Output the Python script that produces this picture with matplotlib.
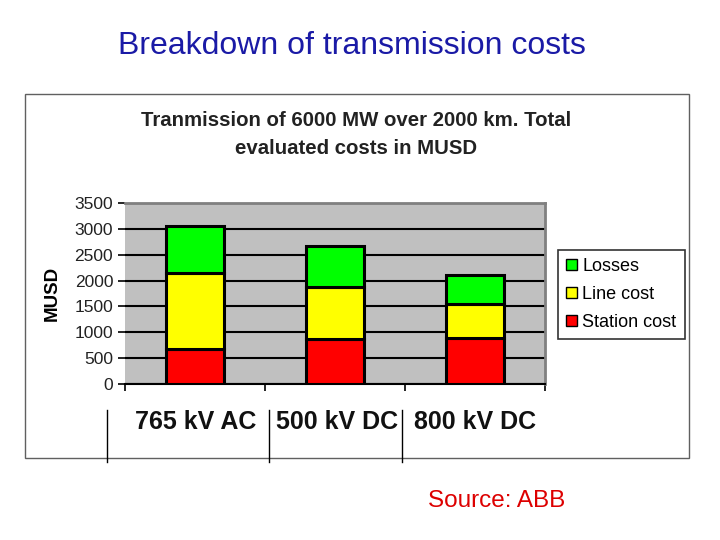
import matplotlib.pyplot as plt
import numpy as np
from matplotlib.patches import Rectangle, Patch
from matplotlib.lines import Line2D

plt.rcParams["font.family"] = ["Liberation Sans", "DejaVu Sans"]

categories = ["765 kV AC", "500 kV DC", "800 kV DC"]
station_cost = [670, 870, 880]
line_cost = [1470, 1010, 670]
losses = [920, 790, 560]

fig = plt.figure(figsize=(7.2, 5.4), dpi=100)
fig.patch.set_facecolor("white")

# outer chart box
fig.patches.append(Rectangle((25 / 720, 1 - 458 / 540), 664 / 720, 364 / 540,
                             transform=fig.transFigure, fill=False,
                             edgecolor="#606060", linewidth=1))

fig.text(352 / 720, 1 - 46 / 540, "Breakdown of transmission costs",
         color="#1a1aa6", fontsize=23, ha="center", va="center")
fig.text(356 / 720, 1 - 134 / 540,
         "Tranmission of 6000 MW over 2000 km. Total\nevaluated costs in MUSD",
         fontsize=14.7, fontweight="bold", ha="center", va="center",
         color="#222222", linespacing=1.6)
fig.text(497 / 720, 1 - 501 / 540, "Source: ABB", color="#dd0000",
         fontsize=17.5, ha="center", va="center")

ax = fig.add_axes([125 / 720, 1 - 384 / 540, 420 / 720, 181 / 540])
ax.set_facecolor("#c0c0c0")

x = np.arange(len(categories))
w = 0.41
b1 = np.array(station_cost)
b2 = b1 + np.array(line_cost)
ax.bar(x, station_cost, w, color="#ff0000", edgecolor="black", linewidth=2.2, zorder=3)
ax.bar(x, line_cost, w, bottom=b1, color="#ffff00", edgecolor="black", linewidth=2.2, zorder=3)
ax.bar(x, losses, w, bottom=b2, color="#00ff00", edgecolor="black", linewidth=2.2, zorder=3)

ax.set_xlim(-0.5, 2.5)
ax.set_ylim(0, 3500)
ax.set_yticks(range(0, 3501, 500))
ax.yaxis.grid(True, color="black", linewidth=1.5, zorder=1)
ax.set_axisbelow(True)
ax.tick_params(axis="y", labelsize=12.5, length=5, width=1.2, direction="out",
               labelcolor="#222222")
ax.set_xticks([-0.5, 0.5, 1.5, 2.5])
ax.set_xticklabels([])
ax.tick_params(axis="x", length=5, width=1.2, direction="out")
ax.set_ylabel("MUSD", fontsize=13.5, fontweight="bold", labelpad=10)
for s in ["top", "right"]:
    ax.spines[s].set_color("#808080")
    ax.spines[s].set_linewidth(2)
ax.spines["left"].set_visible(False)
ax.spines["bottom"].set_linewidth(1.5)

# category labels with separators below the axis
label_x = [196, 337, 475]
for lx, c in zip(label_x, categories):
    fig.text(lx / 720, 1 - 422 / 540, c, fontsize=18, fontweight="bold",
             ha="center", va="center", color="#111111")
for sx in [107, 269, 402]:
    fig.add_artist(Line2D([sx / 720, sx / 720], [1 - 410 / 540, 1 - 462 / 540],
                          transform=fig.transFigure, color="black", linewidth=1))

handles = [Patch(facecolor="#00ff00", edgecolor="black", label="Losses"),
           Patch(facecolor="#ffff00", edgecolor="black", label="Line cost"),
           Patch(facecolor="#ff0000", edgecolor="black", label="Station cost")]
leg = fig.legend(handles=handles, loc="upper left",
                 bbox_to_anchor=(558 / 720, 1 - 250 / 540), borderaxespad=0,
                 fontsize=13, handlelength=0.6, handleheight=0.6,
                 handletextpad=0.3, fancybox=False, frameon=True,
                 borderpad=0.45, labelspacing=0.6)
leg.get_frame().set_edgecolor("black")
leg.get_frame().set_linewidth(1.2)

fig.savefig("out.png", dpi=100)
